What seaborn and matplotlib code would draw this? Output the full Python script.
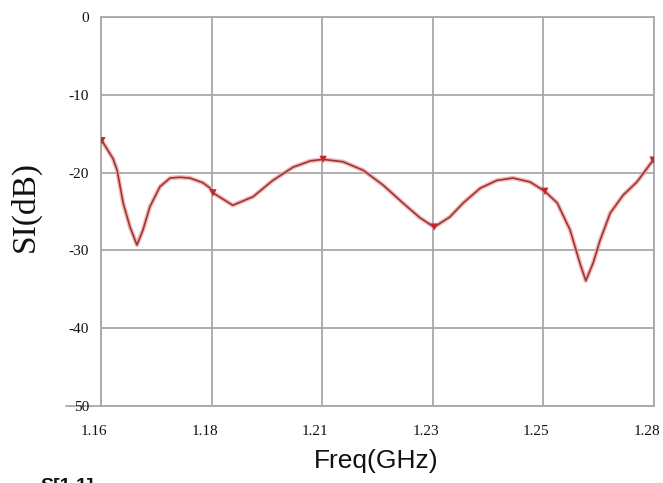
import matplotlib
matplotlib.use("Agg")
import matplotlib.pyplot as plt
import matplotlib.transforms as mtrans
import seaborn as sns
import pandas as pd
from matplotlib.lines import Line2D

freq = [1.1602, 1.1626, 1.1635, 1.1648, 1.1663, 1.1678, 1.1691, 1.1706, 1.1728, 1.1750,
        1.1771, 1.1793, 1.1821, 1.1837, 1.1843, 1.1886, 1.1930, 1.1973, 1.2017, 1.2054,
        1.2082, 1.2125, 1.2169, 1.2212, 1.2255, 1.2292, 1.2323, 1.2357, 1.2386, 1.2423,
        1.2459, 1.2494, 1.2531, 1.2563, 1.2590, 1.2618, 1.2639, 1.2652, 1.2668, 1.2683,
        1.2705, 1.2733, 1.2763, 1.2798]
s11 = [-15.9, -18.2, -19.7, -23.9, -27.0, -29.3, -27.4, -24.4, -21.8, -20.7,
       -20.6, -20.7, -21.3, -22.0, -22.6, -24.2, -23.1, -21.0, -19.3, -18.5,
       -18.3, -18.6, -19.7, -21.6, -23.9, -25.8, -27.0, -25.7, -23.9, -22.0,
       -21.0, -20.7, -21.2, -22.4, -23.9, -27.4, -31.6, -33.9, -31.6, -28.7,
       -25.2, -22.9, -21.2, -18.4]

marker_freq = [1.1602, 1.1843, 1.2082, 1.2323, 1.2563, 1.2798]
marker_s11 = [-15.9, -22.6, -18.3, -27.0, -22.4, -18.4]

xtick_pos = [1.16, 1.184, 1.208, 1.232, 1.256, 1.28]
xtick_labels = ["1.16", "1.18", "1.21", "1.23", "1.25", "1.28"]
ytick_pos = [0, -10, -20, -30, -40, -50]
ytick_labels = ["0", "-10", "-20", "-30", "-40", "50"]

df = pd.DataFrame({"freq": freq, "s11": s11})
mk = pd.DataFrame({"freq": marker_freq, "s11": marker_s11})

sns.set_theme(style="white")
plt.rcParams["font.family"] = ["Liberation Serif", "DejaVu Serif"]

fig = plt.figure(figsize=(6.63, 4.83), dpi=100)
ax = fig.add_axes([101/663, 1-406/483, 553/663, 389/483])

sns.lineplot(data=df, x="freq", y="s11", ax=ax, color="#f3a6a6", lw=3.2, alpha=0.8, zorder=3)
sns.lineplot(data=df, x="freq", y="s11", ax=ax, color="#9a3636", lw=1.2, zorder=4)
sns.scatterplot(data=mk, x="freq", y="s11", ax=ax, marker="v", s=28, color="#c0282c",
                edgecolor="none", zorder=5)

ax.set_xlim(1.16, 1.28)
ax.set_ylim(-50, 0)
ax.set_xticks(xtick_pos)
ax.set_xticklabels(xtick_labels)
ax.set_yticks(ytick_pos)
ax.set_yticklabels(ytick_labels)
ax.tick_params(axis="x", length=0, pad=13.5, labelsize=11, colors="#111111")
ax.tick_params(axis="y", length=0, pad=8.5, labelsize=11, colors="#111111")
shift = mtrans.ScaledTranslation(-0.07, 0, fig.dpi_scale_trans)
for lab in ax.get_xticklabels():
    lab.set_transform(lab.get_transform() + shift)
ax.grid(True, color="#a8a8a8", lw=1.3)
for sp in ax.spines.values():
    sp.set_color("#a8a8a8")
    sp.set_linewidth(1.3)

ax.set_xlabel("")
ax.set_ylabel("")
fig.text(25/663, 1-207/483, "SI(dB)", rotation=90, ha="center", va="center",
         fontsize=24, family=["Liberation Serif"], color="#111111")
fig.text(376/663, 1-468/483, "Freq(GHz)", ha="center", va="baseline",
         fontsize=19, family=["Liberation Sans"], color="#111111")
fig.text(40/663, 1-478/483, "S[1,1]", ha="left", va="top", fontsize=14,
         fontweight="bold", family=["Liberation Sans"], color="#111111")

# short line through the -50 label
fig.add_artist(Line2D([66/663, 101/663], [1-406/483, 1-406/483], color="#a8a8a8",
                      lw=1.3, zorder=0))

fig.savefig("out.png", dpi=100, facecolor="white")
